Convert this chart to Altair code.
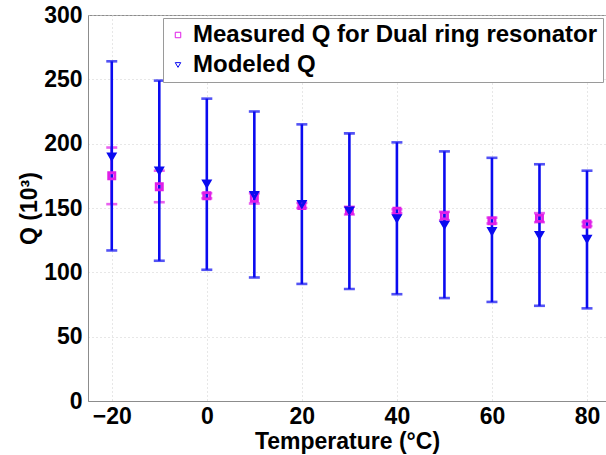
import altair as alt
import pandas as pd

temps = [-20, -10, 0, 10, 20, 30, 40, 50, 60, 70, 80]

model_q = [190, 179, 169, 160, 153, 148, 142, 137, 132, 129, 126]
model_hi = [264, 249, 235, 225, 215, 208, 201, 194, 189, 184, 179]
model_lo = [117, 109, 102, 96, 91, 87, 83, 80, 77, 74, 72]

meas_q = [175, 166.5, 159.5, 157.5, 152, 148, 147.5, 144, 140, 142, 137.5]
meas_hi = [197, 179, 161.5, 161.5, 154, 151, 149, 147, 142.5, 146, 139]
meas_lo = [153, 154.5, 157.5, 153.5, 150, 145, 146, 140.5, 138, 139, 136]

MEAS = "Measured Q for Dual ring resonator"
MODEL = "Modeled Q"
MAGENTA = "#e01ee8"
BLUE = "#0a0af0"
FONT = "Liberation Sans"

df_meas = pd.DataFrame({"T": temps, "q": meas_q, "lo": meas_lo, "hi": meas_hi, "series": MEAS})
df_model = pd.DataFrame({"T": temps, "q": model_q, "lo": model_lo, "hi": model_hi, "series": MODEL})
df_all = pd.concat([df_meas, df_model], ignore_index=True)

xenc = alt.X("T:Q", scale=alt.Scale(domain=[-25, 84], nice=False, zero=False),
             axis=alt.Axis(values=[-20, 0, 20, 40, 60, 80], title="Temperature (°C)"))
yscale = alt.Scale(domain=[0, 300], nice=False)
yaxis = alt.Axis(values=[0, 50, 100, 150, 200, 250, 300], title="Q (10³)")


def bars(df, color):
    base = alt.Chart(df)
    rule = base.mark_rule(color=color, strokeWidth=2.6).encode(
        x=xenc, y=alt.Y("lo:Q", scale=yscale, axis=yaxis), y2="hi:Q")
    cap_lo = base.mark_tick(color=color, thickness=2.6, size=11, orient="horizontal").encode(
        x=xenc, y=alt.Y("lo:Q", scale=yscale, axis=yaxis))
    cap_hi = base.mark_tick(color=color, thickness=2.6, size=11, orient="horizontal").encode(
        x=xenc, y=alt.Y("hi:Q", scale=yscale, axis=yaxis))
    return [rule, cap_lo, cap_hi]


points = alt.Chart(df_all).mark_point(filled=False, strokeWidth=2.8, size=38, opacity=1).encode(
    x=xenc,
    y=alt.Y("q:Q", scale=yscale, axis=yaxis),
    color=alt.Color("series:N", scale=alt.Scale(domain=[MEAS, MODEL], range=[MAGENTA, BLUE]),
                    legend=alt.Legend(title=None)),
    shape=alt.Shape("series:N", scale=alt.Scale(domain=[MEAS, MODEL], range=["square", "triangle-down"]),
                    legend=alt.Legend(title=None)),
)

layers = bars(df_meas, MAGENTA) + bars(df_model, BLUE) + [points]

chart = alt.layer(*layers).properties(
    width=518, height=386,
    autosize="none",
    padding={"left": 88, "top": 15, "right": 0, "bottom": 54},
).configure_view(
    stroke="#8c8c8c", strokeWidth=1
).configure_axis(
    labelFont=FONT, labelFontWeight="bold", labelFontSize=23, labelColor="black",
    titleFont=FONT, titleFontWeight="bold", titleFontSize=23, titleColor="black",
    domainColor="#8c8c8c", tickSize=0, grid=True, gridColor="#cfcfcf", gridDash=[1, 3],
).configure_axisX(
    labelPadding=4, titlePadding=2,
).configure_axisY(
    labelPadding=6, titlePadding=2,
).configure_legend(
    orient="none", legendX=75, legendY=3,
    strokeColor="#9a9a9a", fillColor="white", padding=5,
    labelFont=FONT, labelFontWeight="bold", labelFontSize=24, labelColor="black",
    labelLimit=1000, symbolSize=30, symbolStrokeWidth=1, symbolOffset=-2, labelOffset=3,
    rowPadding=6,
)

chart.save("out.html", embed_options={"renderer": "svg", "actions": False})
